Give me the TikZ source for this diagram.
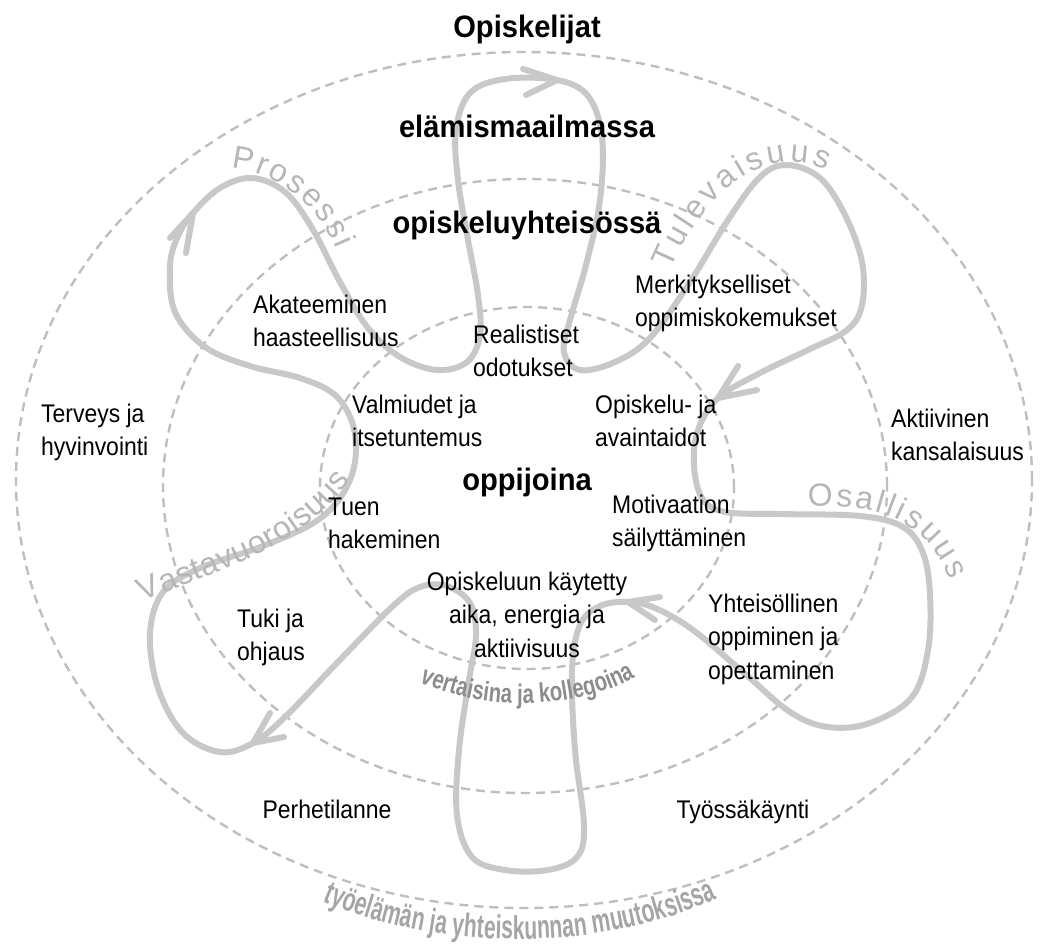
\documentclass[tikz,border=0pt]{standalone}
\usepackage{fontspec}
\setmainfont{Liberation Sans}
\newfontfamily\lblfont{Liberation Sans}[FakeStretch=0.9]
\newfontfamily\headfont{Liberation Sans}[FakeStretch=0.94]
\newfontfamily\condfontA{Liberation Sans}[FakeStretch=0.75]
\newfontfamily\condfontB{Liberation Sans}[FakeStretch=0.64]
\usetikzlibrary{decorations.text}
\definecolor{loopgray}{RGB}{200,200,200}
\definecolor{dashgray}{RGB}{190,190,190}
\definecolor{wordgray}{RGB}{182,182,182}
\definecolor{arcgray}{RGB}{140,140,140}
\definecolor{arcgrayb}{RGB}{165,165,165}
\newcommand\wordfont{\fontsize{32}{32}\selectfont\color{wordgray}}
\newcommand\arcfontA{\condfontA\bfseries\fontsize{27}{27}\selectfont\color{arcgray}}
\newcommand\arcfontB{\condfontB\bfseries\fontsize{33}{33}\selectfont\color{arcgrayb}}
\tikzset{
  ring/.style={draw=dashgray, line width=2.4pt, dash pattern=on 9pt off 6pt},
  loopline/.style={draw=loopgray, line width=6pt, line cap=round, line join=round},
  lbl/.style={anchor=base west, inner sep=0pt, font=\lblfont\fontsize{25.5}{33.5}\selectfont},
  lblc/.style={lbl, anchor=base},
  head/.style={anchor=base, inner sep=0pt, font=\headfont\bfseries\fontsize{31}{33}\selectfont},
}
\begin{document}
\begin{tikzpicture}[x=1pt,y=-1pt]
\useasboundingbox (0,0) rectangle (1041,951);
% dashed rings
\draw[ring] (524,480) ellipse [x radius=508pt, y radius=428pt];
\draw[ring] (525,486) ellipse [x radius=362pt, y radius=307pt];
\draw[ring] (527,488) ellipse [x radius=207pt, y radius=181pt];
% the looping path
\draw[loopline] plot[smooth cycle, tension=0.6] coordinates {
(193,213) (220,188) (252,178) (285,192) (312,228) (340,282) (368,328) (400,357)
(437,370) (467,362) (480,335) (478,295) (468,240) (458,180) (456,130) (470,93)
(505,79) (557,80) (588,96) (602,137) (600,200) (586,265) (570,320) (564,352)
(580,370) (615,362) (650,338) (690,282) (728,220) (760,177) (787,165) (820,178)
(845,215) (862,262) (862,305) (847,330) (808,350) (760,373) (718,398) (698,430)
(694,465) (702,498) (725,512) (780,514) (860,516) (903,527) (923,553) (930,595)
(928,650) (912,697) (870,723) (828,727) (790,712) (743,672) (693,630) (655,608)
(628,602) (600,606) (580,625) (572,670) (575,750) (584,825) (577,857) (548,870)
(505,870) (472,857) (457,815) (459,750) (469,680) (476,635) (470,603) (447,586)
(420,587) (393,606) (335,665) (285,717) (253,743) (220,752) (183,733) (158,688)
(150,634) (163,592) (200,568) (263,546) (315,522) (342,495) (355,462) (353,425)
(335,395) (300,378) (250,366) (205,347) (175,312) (170,266) (178,236)};
% arrow heads
\coordinate (tipT) at (557,80);
\coordinate (tipUR) at (718,398);
\coordinate (tipLR) at (628,602);
\coordinate (tipLL) at (253,743);
\coordinate (tipUL) at (193,213);
\draw[loopline] (523,69) -- (tipT) -- (526,95);
\draw[loopline] (757,390) -- (tipUR) -- (738,366);
\draw[loopline] (660,597) -- (tipLR) -- (655,620);
\draw[loopline] (270,713) -- (tipLL) -- (284,737);
\draw[loopline] (170,238) -- (tipUL) -- (186,253);
% curved grey words
\path[decorate, decoration={text along path, text={|\wordfont|Prosessi}, text align=fit to path}]
  (231,168) .. controls (265,169) and (315,197) .. (336,249);
\path[decorate, decoration={text along path, text={|\wordfont|Tulevaisuus}, text align=fit to path}]
  (671,270) .. controls (700,200) and (760,140) .. (826,170);
\path[decorate, decoration={text along path, text={|\wordfont|Osallisuus}, text align=fit to path}]
  (808,507) .. controls (870,503) and (925,515) .. (950,580);
\path[decorate, decoration={text along path, text={|\wordfont|Vastavuoroisuus}, text align=fit to path}]
  (143,602) .. controls (210,572) and (300,552) .. (350,480);
\path[decorate, decoration={text along path, text={|\arcfontA|vertaisina ja kollegoina}, text align=center}]
  (405,674) .. controls (470,714) and (585,714) .. (650,668);
\path[decorate, decoration={text along path, text={|\arcfontB|työelämän ja yhteiskunnan muutoksissa}, text align=center}]
  (305,893) .. controls (430,955) and (610,955) .. (735,890);
% headings
\node[head] (h1) at (527,37) {Opiskelijat};
\node[head] (h2) at (527,137) {elämismaailmassa};
\node[head] (h3) at (527,233) {opiskeluyhteisössä};
\node[head] (h4) at (527,490) {oppijoina};
% labels
\node[lbl] (akat) at (253,313) {\begin{tabular}[t]{@{}l@{}}Akateeminen\\haasteellisuus\end{tabular}};
\node[lbl] (real) at (473,343) {\begin{tabular}[t]{@{}l@{}}Realistiset\\odotukset\end{tabular}};
\node[lbl] (merk) at (635,293) {\begin{tabular}[t]{@{}l@{}}Merkitykselliset\\oppimiskokemukset\end{tabular}};
\node[lbl] (terv) at (41,422) {\begin{tabular}[t]{@{}l@{}}Terveys ja\\hyvinvointi\end{tabular}};
\node[lbl] (valm) at (352,413) {\begin{tabular}[t]{@{}l@{}}Valmiudet ja\\itsetuntemus\end{tabular}};
\node[lbl] (opsk) at (595,413) {\begin{tabular}[t]{@{}l@{}}Opiskelu- ja\\avaintaidot\end{tabular}};
\node[lbl] (akti) at (891,427) {\begin{tabular}[t]{@{}l@{}}Aktiivinen\\kansalaisuus\end{tabular}};
\node[lbl] (tuen) at (328,515) {\begin{tabular}[t]{@{}l@{}}Tuen\\hakeminen\end{tabular}};
\node[lbl] (moti) at (612,513) {\begin{tabular}[t]{@{}l@{}}Motivaation\\säilyttäminen\end{tabular}};
\node[lblc] (aika) at (527,590) {\begin{tabular}[t]{@{}c@{}}Opiskeluun käytetty\\aika, energia ja\\aktiivisuus\end{tabular}};
\node[lbl] (tuki) at (237,627) {\begin{tabular}[t]{@{}l@{}}Tuki ja\\ohjaus\end{tabular}};
\node[lbl] (yhte) at (708,612) {\begin{tabular}[t]{@{}l@{}}Yhteisöllinen\\oppiminen ja\\opettaminen\end{tabular}};
\node[lblc] (perh) at (327,818) {Perhetilanne};
\node[lblc] (tyos) at (743,818) {Työssäkäynti};
\end{tikzpicture}
\end{document}
